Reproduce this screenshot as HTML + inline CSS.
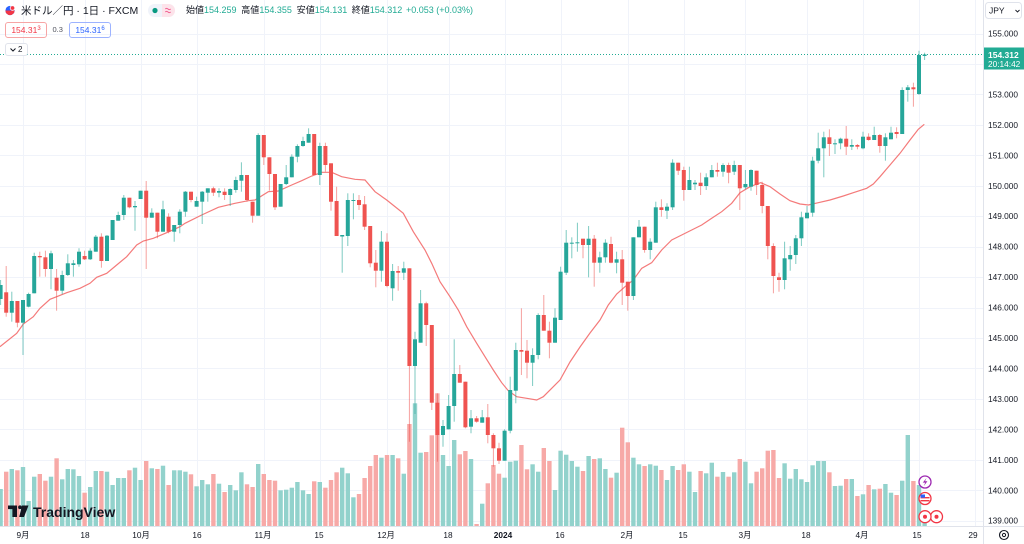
<!DOCTYPE html>
<html><head><meta charset="utf-8">
<style>
html,body{margin:0;padding:0;background:#fff;}
body{width:1024px;height:544px;overflow:hidden;position:relative;font-family:"Liberation Sans","Noto Sans CJK JP",sans-serif;color:#131722;}
#c{position:absolute;left:0;top:0;}
.t{position:absolute;white-space:nowrap;}
.g{color:#22ab94;}
</style></head><body>
<svg id="c" width="1024" height="544" viewBox="0 0 1024 544" xmlns="http://www.w3.org/2000/svg" font-family="Liberation Sans, Noto Sans CJK JP, sans-serif">
<g id="grid"></g>
<g id="vol"></g>
<polyline id="ma" fill="none" stroke="#f47a7a" stroke-width="1.2" points=""/>
<g id="cand"></g>
<line x1="0" x2="983" y1="54.5" y2="54.5" stroke="#22ab94" stroke-width="1" stroke-dasharray="1,2"/>
<line x1="983.5" x2="983.5" y1="0" y2="544" stroke="#e0e3eb" stroke-width="1"/>
<line x1="0" x2="1024" y1="526.5" y2="526.5" stroke="#e0e3eb" stroke-width="1"/>
<g id="plab" font-size="8.3" fill="#131722"></g>
<g id="tlab" font-size="8.3" fill="#131722" text-anchor="middle"></g>
<!-- JPY box -->
<rect x="985.5" y="2.5" width="36" height="16" rx="3" fill="#fff" stroke="#e0e3eb"/>
<text x="989" y="13.5" font-size="8.5" fill="#131722">JPY</text>
<path d="M1015.5 10 L1017.5 12 L1019.5 10" fill="none" stroke="#131722" stroke-width="0.9"/>
<!-- price tag -->
<rect x="984" y="47.5" width="40" height="22" fill="#22ab94"/>
<text x="988" y="58" font-size="8.5" fill="#fff" font-weight="bold">154.312</text>
<text x="988" y="67.2" font-size="8.3" fill="#fff">20:14:42</text>
<!-- gear -->
<circle cx="1004" cy="535" r="4.5" fill="none" stroke="#131722" stroke-width="1.1"/>
<circle cx="1004" cy="535" r="1.6" fill="none" stroke="#131722" stroke-width="1"/>
<!-- TradingView logo -->
<g fill="#131722">
<rect x="8" y="505.5" width="9" height="3.6"/>
<rect x="12.4" y="505.5" width="4.6" height="11.5"/>
<circle cx="20" cy="507.3" r="1.9"/>
<path d="M22 505.5 L28.5 505.5 L24 517 L19.2 517 Z"/>
<text x="33" y="517" font-size="14" font-weight="bold">TradingView</text>
</g>
<!-- event icons -->
<circle cx="925" cy="482" r="6" fill="#fff" stroke="#9c27b0" stroke-width="1.3"/>
<path d="M926.5 478 L922.8 482.6 L925.2 482.6 L923.8 486 L927.4 481.2 L925 481.2 Z" fill="#9c27b0"/>
<circle cx="925" cy="498.5" r="6" fill="#fff" stroke="#f23645" stroke-width="1.3"/>
<rect x="920.5" y="497" width="9" height="1.4" fill="#f23645"/>
<rect x="920.5" y="500" width="9" height="1.4" fill="#f23645"/>
<rect x="920.5" y="494.5" width="4.5" height="3.2" fill="#2962ff"/>
<circle cx="936.5" cy="516.7" r="6" fill="#fff" stroke="#f23645" stroke-width="1.3"/>
<circle cx="936.5" cy="516.7" r="2" fill="#f23645"/>
<circle cx="925" cy="516.7" r="6" fill="#fff" stroke="#f23645" stroke-width="1.3"/>
<circle cx="925" cy="516.7" r="2" fill="#f23645"/>
<!-- legend flag -->
<circle cx="10" cy="10.5" r="4.6" fill="#2962ff"/>
<path d="M5.4 10.5 A4.6 4.6 0 0 0 14.6 10.5 Z" fill="#f23645"/>
<circle cx="12.5" cy="8" r="2.3" fill="#f23645" stroke="#fff" stroke-width="0.8"/>
<!-- pill -->
<rect x="148" y="4" width="27" height="13" rx="6.5" fill="#f0f3fa"/>
<path d="M162 4 L168.5 4 A6.5 6.5 0 0 1 168.5 17 L162 17 Z" fill="#fde3ea"/>
<circle cx="155" cy="10.5" r="2.6" fill="#089981"/>
<path d="M165.3 9 Q166.7 7.8 168 9 T170.7 9 M165.3 12 Q166.7 10.8 168 12 T170.7 12" fill="none" stroke="#f06292" stroke-width="1"/>
</svg>

<div class="t" style="left:21px;top:3.5px;font-size:10.5px;line-height:14px;">米ドル／円 · 1日 · FXCM</div>
<div class="t" style="left:186px;top:5px;font-size:9px;line-height:11px;">始値<span class="g">154.259</span></div>
<div class="t" style="left:241.3px;top:5px;font-size:9px;line-height:11px;">高値<span class="g">154.355</span></div>
<div class="t" style="left:296.7px;top:5px;font-size:9px;line-height:11px;">安値<span class="g">154.131</span></div>
<div class="t" style="left:351.7px;top:5px;font-size:9px;line-height:11px;">終値<span class="g">154.312</span></div>
<div class="t g" style="left:406px;top:5px;font-size:9px;line-height:11px;">+0.053 (+0.03%)</div>

<div class="t" style="left:5px;top:21.7px;width:40px;height:14px;border:1px solid #f7a5a5;border-radius:3px;font-size:8.5px;line-height:14px;color:#f23645;text-align:center;">154.31<sup style="font-size:6px;vertical-align:3px;line-height:0">3</sup></div>
<div class="t" style="left:52.5px;top:23.5px;font-size:7.5px;line-height:11px;color:#50535e;">0.3</div>
<div class="t" style="left:69px;top:21.7px;width:40px;height:14px;border:1px solid #9db3ff;border-radius:3px;font-size:8.5px;line-height:14px;color:#2962ff;text-align:center;">154.31<sup style="font-size:6px;vertical-align:3px;line-height:0">6</sup></div>

<div class="t" style="left:5px;top:42.7px;width:21px;height:11px;border:1px solid #e0e3eb;border-radius:3px;background:#fff;font-size:8px;line-height:11px;color:#131722;">
<svg width="8" height="11" style="position:absolute;left:3px;top:0"><path d="M1.5 4.5 L4 7 L6.5 4.5" fill="none" stroke="#131722" stroke-width="1"/></svg>
<span style="position:absolute;left:12px;top:0">2</span></div>

<script>
var D=[
[1,285,299,280,305,489],[0,292.3,312.7,266,316.7,471.7],[1,301,312.7,291.7,321.7,469],[0,301,322.7,301,327.3,470.3],[1,300,322.7,300,355,467],
[1,294,306.7,292.7,307.3,501],[1,256,293.3,252.7,293.3,476.7],[0,256,257.3,251.7,276.7,474],[0,257.3,269,250.7,276.7,480.7],[1,253.3,269,250.7,289.3,476.7],
[0,277.7,290.7,269,310.7,458.3],[1,275,290.7,270.7,294.3,479.3],[1,263.3,275,254.3,276,469],[1,263.3,265,260,276.7,469.3],[1,251.7,264.3,248.3,266.7,476],
[0,256,259.3,250.7,260,492.7],[1,250.7,259.3,248.3,260,487],[1,236.7,251.7,235,251.7,471],[0,236.7,261,233.3,267.7,471],[1,235.7,261,235,261,471.7],
[1,220,240,220,240,485],[1,215,220.7,211.7,220.7,478],[1,197.7,215,195,220,478],[0,197.7,207.3,197.7,208.3,470.3],[1,206,207.3,201,230.7,467.7],
[1,190.7,199,190.7,199,480],[0,190.7,217.7,181,269,461],[1,212.7,217.7,208.3,217.7,468.3],[0,212.7,231.7,212.7,238.3,469],[1,209.3,231.7,200.7,231.7,465.7],
[0,216.7,231.7,213.3,233.3,485],[1,225,231.7,225,241.7,470.3],[1,211.7,225,209.3,233.3,470.3],[1,191.7,211.7,191,216.7,471.7],[0,191.7,200,191.7,202.3,474.3],
[1,201,206.7,196.7,206.7,486.3],[1,191.7,201.7,191,224,480],[1,188.3,192.7,188.3,201.7,484.3],[0,188.3,192.7,186.7,196,474],[1,191,192.7,188.3,197.3,483.7],
[0,191.7,195,188.3,200,492],[1,189,195,188.3,206,485],[1,180,190,176.7,192.7,490.3],[1,175,180.7,162.3,191.7,472.3],[0,175,200,175,201.7,484.3],
[0,201.7,215.7,201.7,222.7,487],[1,135,215.7,133.3,215.7,464],[0,135,157.3,135,165,474],[0,157.3,174,157.3,190.7,480],[0,174,207.3,174,210,480.7],
[1,184,206.7,184,206.7,490.3],[1,177.3,184,165,185,489.7],[1,156.7,177.3,154.3,177.3,487.7],[1,146,156.7,144.3,162.3,482],[1,141,146,136.7,146.7,490.3],
[1,134,142.7,128.3,142.7,494],[0,134,175,134,175,481.3],[1,146,175,142.7,185,482],[0,146,165,142.7,171.7,487.7],[0,163.3,201.7,163.3,210.7,480],
[0,201,236,186.7,236,472.3],[1,235,236.5,235,272.7,467.7],[1,200,236,193.3,246,473.3],[1,200,201,193.3,219.3,497.3],[0,200,205,195,210,494],
[0,204.3,226.7,196,230,478],[0,226,263.3,226,267.3,466],[0,262.7,270.7,250,287.3,455],[1,241.7,270.7,231,281.7,457.7],[0,241.7,286,233.3,287.3,455],
[1,271,288.3,264,300.7,455],[0,271,272.7,266,290.7,458.3],[1,268.3,272.7,261.7,280,473.7],[0,268.3,366,268.3,441.7,424],[1,339.3,366,331.7,414,403.3],
[1,303.3,342.7,290,342.7,452.7],[0,303.3,325,301.7,346,452],[0,325,402.7,325,410,435.3],[0,402.7,435,393.3,461.7,393.3],[1,426,435,420,446.7,455],
[1,406,429.3,395,429.3,466],[1,374,406,339.3,421.7,440],[0,374,382.7,365,382.7,454.3],[0,381.7,427.3,381.7,428.3,451],[1,418.3,426.7,410,433.3,459],
[0,418.3,421.7,416,422.7,524],[1,417.3,422.7,410,422.7,503.7],[0,417.3,435,404,443.3,483.3],[0,435,448.3,433.3,466.7,465],[0,448.3,460.7,442.7,464,473.7],
[1,430.7,460.7,429.3,460.7,477.7],[1,390,430.7,376.7,433.3,461.7],[1,350,390.7,342.7,403.3,460.7],[0,350,351.7,308.3,375,445],[0,350.7,362.7,340,378.3,469.3],
[1,355,362.7,348.3,386,464.3],[1,315,355,313.3,359.3,471.7],[0,315,330.7,295,330.7,448],[0,330.7,342.7,321.7,358.3,461],[1,317.7,342.7,308.3,342.7,490],
[1,271.7,320,266.7,320,450.7],[1,242.7,272.7,230,275,454.7],[1,242.7,243.3,237.3,258.3,461],[1,242.3,243,222.7,251.7,466.7],[0,238.7,245,238.7,258.3,471],
[1,238.7,245,226,277.3,456],[0,238.7,262.7,235,286.7,459],[1,257.3,262.7,251.7,272.7,458.3],[1,242.7,257.3,239.3,262.7,469],[0,244,262.7,236.7,263.3,477.7],
[1,259.3,262.7,251.7,273.3,472.7],[0,259.3,282.7,250,305,427.7],[0,281.7,296,281.7,310.7,442.3],[1,237.3,296,237.3,300,457.7],[1,226.7,237.3,220,237.3,464.3],
[0,226.7,250,226.7,252.7,466],[1,241.7,250,238.3,259.3,464.3],[1,207.3,242.7,201.7,242.7,465.7],[0,207.3,210,199.3,216.7,470],[1,206.7,210.7,203.3,219,480],
[1,162.7,207.3,159.3,210,466],[0,162.7,170.7,162.7,175,470],[0,170,190,166.7,200.7,464.3],[1,180,190,166.7,190,471.7],[1,182.7,184.3,180,190,492],
[0,182.7,186,172.7,195,471],[1,177.3,186,173.3,190,473.3],[1,170,177.3,165,177.3,462.7],[0,170,171.7,162.7,176.7,476.7],[1,165,171.7,163.3,176.7,472],
[0,165,172.7,162.7,183.3,476.7],[1,165,171.7,160.7,175,472.3],[0,165,188.3,165,210,459],[1,184,187.3,170,189.3,461.7],[1,170,186.7,169.3,190.7,483.3],
[0,170.7,185,170.7,195,471.7],[0,185,206,181.7,213.3,468.3],[0,206,246,206,259.3,450.7],[0,246,276,243.3,293.3,450],[0,277.3,280,272.7,291.7,478],
[1,258.3,280,241.7,289.3,463.3],[1,255,259.3,246,270.7,478.7],[1,238.3,255,235,264,469],[1,217.3,238.3,211.7,246,479.3],[1,212.7,218.3,206,218.3,482],
[1,160.7,212.7,156.7,216.7,465.3],[1,148.3,160.7,132.7,163.3,461],[1,137.3,148.3,131.7,177.3,461],[0,137.3,144,129.3,156,472.3],[1,143.3,144,139.3,154,486],
[1,138.7,143.3,137.7,149.3,485.7],[0,138.7,146.7,126,155,479],[1,145,146.7,139.3,150,479],[0,145,146.7,144,149.3,496],[1,136.7,148.3,131.7,149.3,494.3],
[0,136.7,140,133.3,140.7,485],[1,135,140,126.7,140,489.3],[0,135,146,134,152.7,488.7],[1,137.3,146,133.3,160.7,484],[1,132.7,139.3,126.7,139.3,492.7],
[0,132,134,127.3,138.3,495],[1,90,134,87.3,134,480.7],[1,87.3,90,85,101.7,435],[0,87.3,89.3,82.7,106.7,481],[1,55,94,50.7,95,485],
[1,54.5,56,52.7,60,515]
];
var f=function(n){return (Math.round(n*10)/10).toString();};
var g='';
for(var k=0;k<=16;k++){var y=Math.round(33.5+k*30.45)+0.5;g+='<line x1="0" x2="983" y1="'+y+'" y2="'+y+'" stroke="#f0f3fa" stroke-width="1"/>';}
var vx=[23,84.6,140.6,196.6,263.8,319.8,387,448.6,504.6,560.6,627.8,683.8,745.4,807,863,919,975];
for(var i=0;i<vx.length;i++){var x=Math.round(vx[i])+0.5;g+='<line x1="'+x+'" x2="'+x+'" y1="0" y2="526" stroke="#f0f3fa" stroke-width="1"/>';}
document.getElementById('grid').innerHTML=g;
var v='',c='';
for(var i=0;i<D.length;i++){
 var d=D[i],x=0.6+5.6*i;
 var vc=d[0]?'#92d2cc':'#f7a9a7';
 v+='<rect x="'+f(x-2.2)+'" y="'+f(d[5])+'" width="4.4" height="'+f(526-d[5])+'" fill="'+vc+'"/>';
 var bc=d[0]?'#26a69a':'#ef5350', wc=d[0]?'rgba(38,166,154,0.6)':'rgba(239,83,80,0.55)';
 c+='<line x1="'+f(x)+'" x2="'+f(x)+'" y1="'+f(d[3])+'" y2="'+f(d[4])+'" stroke="'+wc+'" stroke-width="1"/>';
 var h=Math.max(1,d[2]-d[1]);
 c+='<rect x="'+f(x-2)+'" y="'+f(d[1])+'" width="4" height="'+f(h)+'" fill="'+bc+'"/>';
}
document.getElementById('vol').innerHTML=v;
document.getElementById('cand').innerHTML=c;
var M=[[0,346.7],[16.7,333.3],[23.3,324],[33.3,316.7],[40,308.3],[50,299.3],[56.7,296.7],[66.7,292.7],[80,288.3],[90,283.3],[96.7,277.3],[106.7,273.3],[116.7,265],[126.7,256.7],[136.7,245],[143.3,241],[153.3,238.3],[166.7,232.7],[180,226.7],[185,223.3],[201.7,215],[218.3,207.3],[235,203.3],[248.3,200.7],[255,200],[268.3,191.7],[278.3,191],[291.7,185],[301.7,180.7],[311.7,176],[321.7,172.3],[331.7,172.3],[341.7,176.7],[355,179.3],[365,180],[375,191.7],[386.7,200],[403.3,213.3],[413.3,231.7],[425,250],[431.7,263.3],[440,281.7],[450,296.7],[458.3,310],[466.7,326.7],[476.7,343.3],[485,356.7],[493.3,370],[501.7,382.7],[508.3,390.7],[516.7,396.7],[526.7,398.3],[536.7,400],[543.3,396.7],[551.7,388.3],[560,380],[570,362],[580,347],[590,333],[600,320],[608.3,305],[616.7,294],[625,286.7],[633.3,280],[641.7,268.3],[651.7,262.7],[661.7,250],[671.7,240],[681.7,235],[691.7,230],[701.7,225],[711.7,218.3],[721.7,211.7],[731.7,203.3],[740,192.7],[750,186.7],[760.7,182.7],[770,186.7],[780,194],[790,200.7],[800,204],[808.3,205],[818.3,202.7],[830,200],[843.3,196],[853.3,192.7],[866.7,188.3],[873.3,184],[880,176.7],[890,165],[900,153.3],[910,140],[918.3,129.3],[924.3,124.3]];
document.getElementById('ma').setAttribute('points',M.map(function(p){return p[0]+','+p[1];}).join(' '));
var pl='',prices=[155,153,152,151,150,149,148,147,146,145,144,143,142,141,140,139];
for(var i=0;i<prices.length;i++){var y=33.5+(155-prices[i])*30.45+3;pl+='<text x="988" y="'+f(y)+'">'+prices[i]+'.000</text>';}
document.getElementById('plab').innerHTML=pl;
var T=[['9月',23],['18',85],['10月',141],['16',197],['11月',263],['15',319],['12月',386],['18',448],['2024',503,1],['16',560],['2月',627],['15',683],['3月',745],['18',806],['4月',862],['15',917],['29',973]];
var tl='';
for(var i=0;i<T.length;i++){tl+='<text x="'+T[i][0+1]+'" y="538"'+(T[i][2]?' font-weight="bold"':'')+'>'+T[i][0]+'</text>';}
document.getElementById('tlab').innerHTML=tl;
</script>
</body></html>
